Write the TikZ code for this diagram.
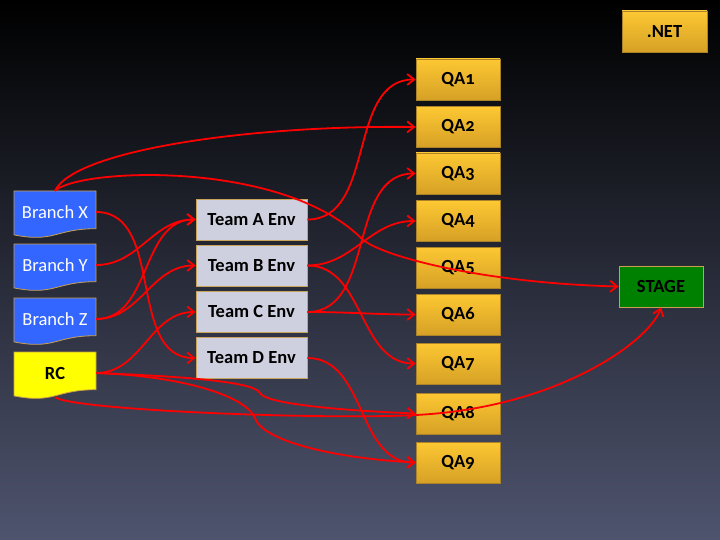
\documentclass[tikz,border=0pt]{standalone}
\usepackage{fontspec}
\setmainfont{Carlito}
\newfontfamily\qafont[Numbers=OldStyle]{Carlito}
\usetikzlibrary{arrows.meta}
\definecolor{bgbot}{RGB}{78,84,110}
\definecolor{bgmid}{RGB}{22,22,34}
\definecolor{docblue}{RGB}{51,102,255}
\definecolor{docyel}{RGB}{255,255,0}
\definecolor{docb}{RGB}{200,160,80}
\definecolor{teamfill}{RGB}{207,208,223}
\definecolor{teamb}{RGB}{200,164,92}
\definecolor{qatop}{RGB}{253,200,50}
\definecolor{qabot}{RGB}{214,160,38}
\definecolor{qab}{RGB}{170,130,40}
\definecolor{stagefill}{RGB}{0,128,0}
\definecolor{connred}{RGB}{255,0,0}
\tikzset{
  docnode/.style={draw=none, minimum width=82pt, minimum height=42pt, inner sep=0pt, font=\fontsize{18.5}{20}\selectfont},
  teambox/.style={draw=teamb, line width=0.8pt, fill=teamfill, minimum width=111pt, minimum height=41pt, inner sep=0pt, font=\fontsize{18.5}{20}\selectfont\bfseries},
  qabox/.style={draw=qab, line width=0.8pt, top color=qatop, bottom color=qabot, minimum width=84pt, minimum height=41pt, inner sep=0pt, font=\fontsize{18.5}{20}\selectfont\bfseries\qafont},
  stagebox/.style={draw=docb, line width=0.8pt, fill=stagefill, minimum width=84pt, minimum height=41pt, inner sep=0pt, font=\fontsize{18.5}{20}\selectfont\bfseries},
  conn/.style={draw=connred, line width=1.8pt, -{Straight Barb[length=7pt,width=11pt]}},
}
\newcommand\docnode[6]{%
  \filldraw[fill=#4, draw=docb, line width=0.8pt] ({#2-41},#3) -- ({#2+41},#3) -- ({#2+41},{#3+37.7})
    .. controls ({#2},{#3+37.7}) and ({#2},{#3+52}) .. ({#2-41},{#3+43.9}) -- cycle;
  \node[docnode, text=#5] (#1) at (#2,{#3+21}) {#6};
}
\begin{document}
\begin{tikzpicture}[x=1pt,y=-1pt]
\useasboundingbox (0,0) rectangle (720,540);
\shade[top color=black, middle color=bgmid, bottom color=bgbot] (0,0) rectangle (720,540);

% branch documents
\docnode{BX}{55}{191}{docblue}{white}{Branch X}
\docnode{BY}{55}{244}{docblue}{white}{Branch Y}
\docnode{BZ}{55}{298}{docblue}{white}{Branch Z}
\docnode{RC}{55}{352}{docyel}{black}{\bfseries RC}
\coordinate (rcb) at (55,397);

% team envs
\node[teambox] (TA) at (251.5,219.5) {Team A Env};
\node[teambox] (TB) at (251.5,265.5) {Team B Env};
\node[teambox] (TC) at (251.5,312) {Team C Env};
\node[teambox] (TD) at (251.5,358) {Team D Env};

% QA
\node[qabox] (Q1) at (458,79.5) {QA1};
\node[qabox] (Q2) at (458,127) {QA2};
\node[qabox] (Q3) at (458,173.5) {QA3};
\node[qabox] (Q4) at (458,221) {QA4};
\node[qabox] (Q5) at (458,267.5) {QA5};
\node[qabox] (Q6) at (458,314.5) {QA6};
\node[qabox] (Q7) at (458,363.5) {QA7};
\node[qabox] (Q8) at (458,413.5) {QA8};
\node[qabox] (Q9) at (458,462.5) {QA9};

\node[stagebox] (ST) at (661,286.5) {STAGE};
\node[qabox, minimum width=85pt] (NET) at (664.5,31.5) {.NET};

% connectors
\draw[conn] (BX.north) .. controls (75,150) and (250,125) .. (Q2.west);
\draw[conn] (BX.north) .. controls (80,168) and (280,160) .. (360,237)
   .. controls (375,255) and (480,283) .. (ST.west);
\draw[conn] (BX.east) to[out=0,in=180] (TD.west);
\draw[conn] (BY.east) to[out=0,in=180] (TA.west);
\draw[conn] (BZ.east) to[out=0,in=180] (TA.west);
\draw[conn] (BZ.east) to[out=0,in=180] (TB.west);
\draw[conn] (RC.east) to[out=0,in=180] (TC.west);
\draw[conn] (RC.east) .. controls (200,377) and (255,383) .. (260,393)
   .. controls (265,403) and (330,410) .. (Q8.west);
\draw[conn] (RC.east) .. controls (180,376) and (245,395) .. (255,418)
   .. controls (262,440) and (330,458) .. (Q9.west);
\draw[conn] (rcb) .. controls (70,410) and (320,420) .. (416,415)
   .. controls (560,407.5) and (650,340) .. (ST.south);
\draw[conn] (TA.east) to[out=0,in=180] (Q1.west);
\draw[conn] (TB.east) to[out=0,in=180] (Q4.west);
\draw[conn] (TB.east) to[out=0,in=180] (Q7.west);
\draw[conn] (TC.east) to[out=0,in=180] (Q3.west);
\draw[conn] (TC.east) to[out=0,in=180] (Q6.west);
\draw[conn] (TD.east) to[out=0,in=180] (Q9.west);
\end{tikzpicture}
\end{document}
